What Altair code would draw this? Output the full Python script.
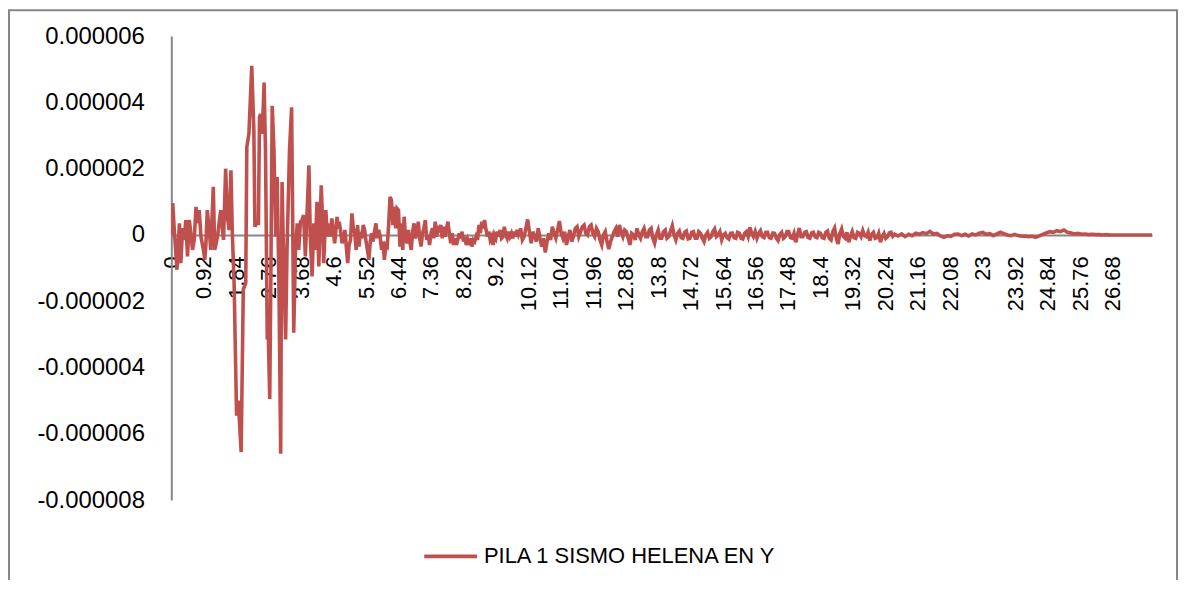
import altair as alt
import pandas as pd

SERIES = "PILA 1 SISMO HELENA EN Y"

# time (s) of the read key points in the strong-motion part
key_t = [0, 0.04, 0.08, 0.16, 0.23, 0.27, 0.32, 0.37, 0.41, 0.46,
         0.51, 0.56, 0.6, 0.65, 0.7, 0.74, 0.79, 0.84, 0.91, 0.95,
         0.98, 1.02, 1.07, 1.12, 1.19, 1.23, 1.31, 1.36, 1.4, 1.48,
         1.54, 1.59, 1.64, 1.69, 1.73, 1.78, 1.85, 1.9, 1.98, 2.04,
         2.11, 2.14, 2.2, 2.28,
         2.34, 2.37, 2.41, 2.47, 2.5, 2.53, 2.58, 2.63, 2.67, 2.72,
         2.75, 2.79, 2.82, 2.86, 2.91, 2.96, 3.0, 3.05, 3.1, 3.12,
         3.14, 3.17, 3.24, 3.28, 3.35, 3.41, 3.44, 3.47, 3.52, 3.57,
         3.61, 3.66, 3.71, 3.75, 3.8, 3.9, 3.94, 3.99, 4.04, 4.08,
         4.13, 4.18, 4.25, 4.29, 4.32, 4.38, 4.42, 4.46, 4.51, 4.55,
         4.63, 4.7]

# values at those times, in units of 1e-6
key_v = [0, 0.96, 0.24, -1.05, 0.35, -0.85, 0.21, -0.15, 0.45, -0.65,
         0.45, 0, -0.45, -0.15, 0.85, 0.35, 0.75, -0.05, -0.45, -0.75,
         -0.3, 0.75, 0.2, -0.45, 1.45, -0.45, -0.05, 0.4, 0.75, -0.15,
         2.0, 0.55, 0.15, 1.95, 0.05, -1.45, -5.45, -5.0, -6.55, -1.65,
         -1.45, 2.65, 3.05, 5.1,
         3.15, 0.25, 0.35, 0.35, 3.55, 3.65, 3.05, 4.6, 2.55, -3.15,
         -3.05, -4.95, -1.45, 3.9, 2.55, -0.05, 1.75, -1.45, -6.6, -1.45,
         1.6, -0.05, -3.15, -0.45, 2.55, 3.85, 0.55, -2.95, -0.45, 0.35,
         -0.45, 0.4, 0.45, 0.6, -0.65, 2.1, -0.05, -1.25, 0.35, -0.45,
         1.0, -0.95, 1.5, 0.35, -0.85, 0.75, -0.05, 0.35, -0.05, 0.5,
         -0.25, 0.55]

# decaying part, sampled every 0.04 s from 4.72 s (units of 1e-6), one row per second
mid_start = 4.72
mid_step = 0.04
mid_v = [0.2, 0.4, 0.1, -0.25, -0.1, 0.15, -0.35, -0.85, -0.3, -0.15, 0.65, 0.2, 0.05, -0.45, 0.3, -0.35, 0.1, -0.1, 0.3, 0.15, -0.2, -0.45, -0.75, -0.2, 0.05,
         -0.2, 0.1, 0.35, -0.1, 0.15, -0.05, -0.45, -0.2, -0.75, -0.3, -0.35, 0.3, 1.15, 1.05, 0.3, 0.85, 0.2, 0.8, 0.75, -0.35, 0.35, -0.45, 0.55, -0.1, -0.25,
         0.15, -0.2, -0.45, 0.1, 0.35, -0.1, 0.05, 0.4, -0.1, -0.35, 0.05, 0.2, 0.45, -0.15, 0, -0.3, 0.05, 0.2, -0.1, 0.4, -0.05, 0.2, 0.15, 0.3, -0.1,
         0.25, -0.05, 0.2, 0.4, 0.05, -0.25, 0.05, -0.3, -0.1, -0.3, -0.15, 0.05, -0.1, 0.1, -0.2, -0.05, -0.3, -0.15, -0.3, -0.1, -0.35, -0.15, -0.2, -0.05, -0.15,
         0.3, 0.05, 0.4, 0.2, 0.45, 0.15, -0.05, 0.1, -0.15, -0.05, -0.3, 0, -0.1, 0.1, -0.05, 0.15, -0.1, -0.05, 0.25, 0, -0.1, 0.1, -0.05, 0.05, -0.1,
         0.1, -0.05, 0.15, 0.0, 0.1]

# moderate tail, sampled every 0.05 s from 9.9 s (units of 1e-6), one row per second
tail1_start = 9.9
tail1_step = 0.05
tail1_v = [0.2, -0.15, -0.05, 0.2, 0.47, 0.1, -0.25, 0.1, -0.05, -0.2, 0.2, -0.1, -0.35, -0.1, -0.53, -0.2, 0.05, -0.15, 0.25, 0.05,
           -0.1, 0.15, 0.42, 0.05, -0.1, 0.1, -0.3, -0.05, 0.15, -0.2, -0.05, 0.2, 0.25, -0.05, 0.1, 0.25, 0.3, 0.05, 0.0, 0.25,
           0.3, 0.05, -0.05, 0.2, 0.1, -0.15, -0.3, 0.0, 0.1, -0.2, -0.43, -0.2, -0.05, 0.1, 0.2, -0.05, 0.3, 0.1, -0.05, 0.15,
           0.1, -0.1, -0.3, 0.05, 0.0, -0.15, 0.2, 0.0, -0.1, 0.1, 0.2, -0.05, -0.05, 0.15, 0.2, -0.1, -0.25, 0.0, 0.15, -0.1,
           -0.1, 0.1, 0.15, -0.1, -0.05, 0.12, 0.28, 0.0, -0.15, 0.05, 0.12, -0.08, -0.1, 0.08, 0.12, -0.12, -0.1, 0.08, 0.1, -0.1,
           -0.1, 0.1, 0.05, -0.1, -0.2, 0.0, 0.08, -0.1, -0.05, 0.1, 0.18, -0.05, 0.0, 0.1, -0.15, 0.0, 0.05, -0.08, -0.12, 0.05,
           0.06, -0.08, -0.1, 0.08, 0.05, -0.1, -0.12, 0.05, 0.1, -0.05, 0.23, 0.05, -0.05, 0.1, -0.1, 0.05, 0.13, -0.05, -0.08, 0.08,
           0.08, -0.08, -0.1, 0.06, 0.05, -0.1, -0.17, 0.02, 0.08, -0.1, -0.05, 0.1, 0.1, -0.08, -0.1, 0.05, -0.22, 0.0, 0.21, -0.05,
           -0.05, 0.08, 0.1, -0.08, -0.1, 0.06, 0.08, -0.06, -0.08, 0.08, 0.05, -0.08, -0.1, 0.08, 0.12, -0.1, -0.15, 0.1, 0.21, -0.1,
           -0.27, 0.05, 0.18, -0.05, -0.1, 0.08, -0.22, -0.05, 0.1, -0.08, -0.1, 0.08, 0.05, -0.05, 0.13, -0.02, -0.05, 0.08, -0.17, 0.02,
           0.08, -0.1, -0.08, 0.05, -0.22, -0.05, 0.05, -0.1, -0.05, 0.06, 0.08, -0.04]

# weak tail, sampled every 0.1 s from 20.5 s (units of 1e-6)
tail2_start = 20.5
tail2_step = 0.1
tail2_v = [0.02, -0.03, 0.03, -0.05,
           0.02, -0.02, 0.05, 0.02, 0.07, 0.04, 0.11, 0.03, 0.05, -0.03,
           -0.07, -0.02, -0.04, 0.02, 0.03, -0.02, 0.02, -0.03, 0.03, 0.0,
           0.05, 0.08, 0.02, 0.04, -0.02, 0.03, 0.08, 0.04, 0.0, -0.02,
           0.02, -0.02, -0.04, -0.03, -0.05, -0.04, -0.07, -0.03, 0.02, 0.06,
           0.1, 0.08, 0.13, 0.1, 0.15, 0.08, 0.06, 0.03, 0.05, 0.02,
           0.03, 0.01, 0.02, 0.01, 0.01, 0.0, 0.01, 0.0, 0.0, 0.0,
           0, 0, 0, 0, 0, 0, 0, 0, 0, 0]

x_ticks = [0, 0.92, 1.84, 2.76, 3.68, 4.6, 5.52, 6.44, 7.36, 8.28, 9.2,
           10.12, 11.04, 11.96, 12.88, 13.8, 14.72, 15.64, 16.56, 17.48,
           18.4, 19.32, 20.24, 21.16, 22.08, 23, 23.92, 24.84, 25.76, 26.68]
y_ticks = [-8e-6, -6e-6, -4e-6, -2e-6, 0, 2e-6, 4e-6, 6e-6]

pairs = list(zip(key_t, key_v))
pairs += [(round(mid_start + i * mid_step, 3), v) for i, v in enumerate(mid_v)]
pairs += [(round(tail1_start + i * tail1_step, 3), v) for i, v in enumerate(tail1_v)]
pairs += [(round(tail2_start + i * tail2_step, 3), v) for i, v in enumerate(tail2_v)]
df = pd.DataFrame({"t": [p[0] for p in pairs],
                   "v": [p[1] * 1e-6 for p in pairs],
                   "serie": SERIES})

W, H = 985, 466
GRAY = "#868686"
FONT = "Liberation Sans"

line = alt.Chart(df).mark_line(strokeWidth=3.6, clip=True).encode(
    x=alt.X("t:Q", scale=alt.Scale(domain=[0, 27.8], nice=False, zero=False),
            axis=alt.Axis(values=x_ticks, format=".2~f", labelAngle=270,
                          labelFontSize=22, labelFont=FONT, labelColor="#000000",
                          labelPadding=21, ticks=False, tickSize=0,
                          domainColor=GRAY, domainWidth=2, grid=False,
                          offset=-266.3, title=None, labelOverlap=False,
                          labelBound=False, labelFlush=False)),
    y=alt.Y("v:Q", scale=alt.Scale(domain=[-8e-6, 6e-6], nice=False, zero=False),
            axis=alt.Axis(values=y_ticks,
                          labelExpr="datum.value == 0 ? '0' : (datum.value < 0 ? '-' : '') + format(abs(datum.value), '.6f')",
                          labelFontSize=24, labelFont=FONT, labelColor="#000000",
                          labelPadding=27, ticks=False, tickSize=0,
                          domainColor=GRAY, domainWidth=2, grid=False, title=None,
                          labelOverlap=False, labelBound=False, labelFlush=False)),
    color=alt.Color("serie:N", scale=alt.Scale(range=["#C0504D"]),
                    legend=alt.Legend(orient="none", legendX=252, legendY=494,
                                      title=None, symbolType="stroke",
                                      symbolSize=2809, symbolStrokeWidth=3.6,
                                      labelFontSize=22, labelFont=FONT, labelLimit=600,
                                      labelColor="#000000", labelOffset=5, padding=0)),
)

border = alt.Chart(pd.DataFrame({"b": [0]})).mark_rect(
    fillOpacity=0, stroke=GRAY, strokeWidth=2
).encode(x=alt.value(-163), x2=alt.value(1010), y=alt.value(-26), y2=alt.value(560))

chart = alt.layer(border, line).properties(
    width=W, height=H,
    padding={"left": 164, "top": 27, "right": 26, "bottom": 79},
    autosize=alt.AutoSizeParams(type="none"),
).configure_view(stroke=None)

chart.save("out.html", embed_options={"renderer": "svg", "actions": False})
